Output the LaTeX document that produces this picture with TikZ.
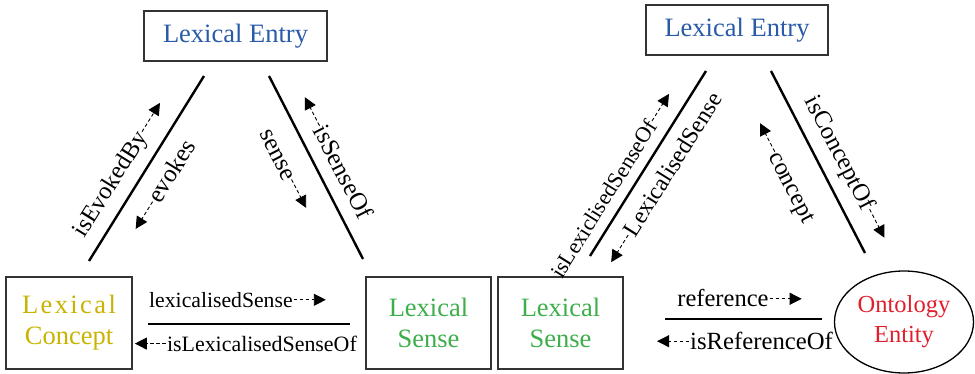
\documentclass[tikz,border=0pt]{standalone}
\usepackage{fontspec}
\setmainfont{Liberation Serif}
\usetikzlibrary{arrows.meta,shapes.geometric,calc}

\definecolor{entryblue}{HTML}{2A5BA8}
\definecolor{conceptyellow}{HTML}{C8B400}
\definecolor{sensegreen}{HTML}{3DAE4A}
\definecolor{ontored}{HTML}{E01F2C}
\definecolor{boxgray}{HTML}{333333}

\newcommand\diagboxfont{\fontsize{26.5}{31}\selectfont}

\begin{document}
\begin{tikzpicture}[x=1pt,y=-1pt,
  box/.style={draw=boxgray, line width=1.3pt, inner sep=0pt, align=center, font=\diagboxfont},
  link/.style={line width=2.4pt},
  % relation label: the node centre sits on the axis of its dashed arrow
  lbl/.style={inner sep=0pt, text height=16pt, text depth=0pt, font={\fontsize{#1}{#1}\selectfont}},
  darr/.style={line width=0.9pt, dash pattern=on 3.5pt off 2.5pt,
    -{Triangle[length=12pt,width=12pt]}, shorten <=1pt},
]
\useasboundingbox (0,0) rectangle (975,374);

% ---------- first triangle: entry, concept, sense ----------
\node[box, minimum width=183pt, minimum height=50pt, text=entryblue] (le1) at (235.5,36) {Lexical Entry};
\node[box, minimum width=126pt, minimum height=92pt, text=conceptyellow] (lc) at (69,323)
  {{\addfontfeature{LetterSpace=9}Lexical}\\Concept};
\node[box, minimum width=125pt, minimum height=92pt, text=sensegreen] (ls1) at (428.5,323) {Lexical\\Sense};

\coordinate (l1a) at (89,261);  \coordinate (l1b) at (204,76);
\coordinate (l2a) at (269,76);  \coordinate (l2b) at (363,259);
\coordinate (l3a) at (148,324); \coordinate (l3b) at (350,324);

\draw[link] (l1a) -- (l1b);
\draw[link] (l2a) -- (l2b);
\draw[link] (l3a) -- (l3b);

% concept -- entry
\path (l1a) -- (l1b) node[lbl=24.5, sloped, pos=0.352, above=15pt] (t1) {isEvokedBy};
\draw[darr] (t1.east) -- ($(t1.east)!-35pt!(t1.west)$);
\path (l1a) -- (l1b) node[lbl=25, sloped, pos=0.55, below=14.5pt] (t2) {evokes};
\draw[darr] (t2.west) -- ($(t2.west)!-33pt!(t2.east)$);

% entry -- sense
\path (l2a) -- (l2b) node[lbl=25, sloped, pos=0.579, above=14pt] (t3) {isSenseOf};
\draw[darr] (t3.west) -- ($(t3.west)!-33pt!(t3.east)$);
\path (l2a) -- (l2b) node[lbl=25, sloped, pos=0.36, below=19pt] (t4) {sense};
\draw[darr] (t4.east) -- ($(t4.east)!-33pt!(t4.west)$);

% concept -- sense
\path (l3a) -- (l3b) node[lbl=21.7, pos=0.361, above=16pt] (t5) {lexicalisedSense};
\draw[darr] (t5.east) -- ($(t5.east)!-33pt!(t5.west)$);
\path (l3a) -- (l3b) node[lbl=21.9, pos=0.564, below=11.4pt] (t6) {isLexicalisedSenseOf};
\draw[darr] (t6.west) -- ($(t6.west)!-32pt!(t6.east)$);

% ---------- second triangle: entry, sense, ontology ----------
\node[box, minimum width=182pt, minimum height=50pt, text=entryblue] (le2) at (737,30) {Lexical Entry};
\node[box, minimum width=125pt, minimum height=92pt, text=sensegreen] (ls2) at (560.5,323) {Lexical\\Sense};
\node[ellipse, draw=black, line width=1.3pt, inner sep=0pt, minimum width=139pt, minimum height=102pt,
  align=center, text=ontored, font=\fontsize{24.5}{30}\selectfont] (oe) at (904,322) {Ontology\\Entity};

\coordinate (l4a) at (590,256); \coordinate (l4b) at (706,71);
\coordinate (l5a) at (771,71);  \coordinate (l5b) at (865,253);
\coordinate (l6a) at (665,319); \coordinate (l6b) at (822,319);

\draw[link] (l4a) -- (l4b);
\draw[link] (l5a) -- (l5b);
\draw[link] (l6a) -- (l6b);

% sense -- entry
\path (l4a) -- (l4b) node[lbl=22, sloped, pos=0.255, above=11pt] (t7) {isLexiclisedSenseOf};
\draw[darr] (t7.east) -- ($(t7.east)!-33pt!(t7.west)$);
\path (l4a) -- (l4b) node[lbl=23.8, sloped, pos=0.558, below=13pt] (t8) {LexicalisedSense};
\draw[darr] (t8.west) -- ($(t8.west)!-33pt!(t8.east)$);

% entry -- ontology
\path (l5a) -- (l5b) node[lbl=24.7, sloped, pos=0.51, above=16pt] (t9) {isConceptOf};
\draw[darr] (t9.east) -- ($(t9.east)!-33pt!(t9.west)$);
\path (l5a) -- (l5b) node[lbl=24.5, sloped, pos=0.55, below=25.5pt] (t10) {concept};
\draw[darr] (t10.west) -- ($(t10.west)!-33pt!(t10.east)$);

% sense -- ontology
\path (l6a) -- (l6b) node[lbl=24.5, pos=0.369, above=12pt] (t11) {reference};
\draw[darr] (t11.east) -- ($(t11.east)!-33pt!(t11.west)$);
\path (l6a) -- (l6b) node[lbl=24.7, pos=0.615, below=14pt] (t12) {isReferenceOf};
\draw[darr] (t12.west) -- ($(t12.west)!-33pt!(t12.east)$);
\end{tikzpicture}
\end{document}
